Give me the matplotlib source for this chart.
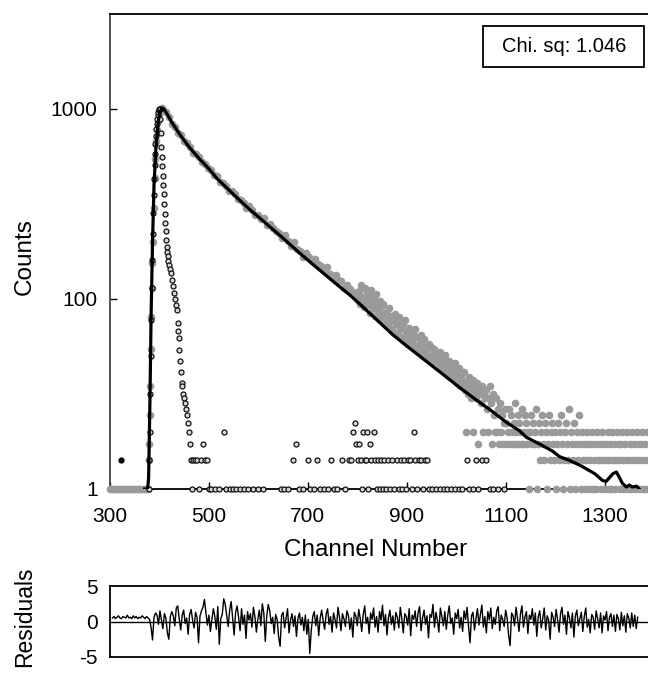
import numpy as np
import matplotlib
matplotlib.use("Agg")
from matplotlib import pyplot as plt
from matplotlib.patches import Rectangle

plt.rcParams['font.family'] = ['Liberation Sans', 'DejaVu Sans']
plt.rcParams['axes.unicode_minus'] = False

# decay (grey points), split in pieces
base_ch = [300, 304, 308, 312, 316, 320, 324, 328, 332, 336,
           340, 344, 348, 352, 356, 360, 364, 368, 372, 376]
base_counts = [1, 1, 1, 1, 1, 1, 1, 1, 1, 1,
               1, 1, 1, 1, 1, 1, 1, 1, 1, 1]

rise_ch = [378, 379, 380, 381, 382, 383, 384, 385, 386, 388,
           390, 392, 394, 396, 398, 400, 402, 404, 406]
rise_counts = [2, 3, 6, 12, 30, 65, 130, 240, 400, 900,
               1900, 3000, 4600, 6000, 7400, 8800, 9600, 10100, 10200]

# channels 408.. every 6
mid_counts = [9800, 9300, 8200, 7000, 6500, 5600, 5300, 4600, 4400, 3950,
              3450, 3400, 3100, 2750, 2650, 2380, 2300, 2000, 1950, 1700,
              1680, 1560, 1380, 1370, 1260, 1120, 1110, 1030, 910, 960,
              860, 760, 770, 700, 720, 600, 610, 560, 520, 500,
              440, 470, 410, 365, 395, 335, 320, 280, 305, 280,
              250, 265, 235, 225, 195, 215, 185, 165, 180, 160,
              155, 132, 140, 128, 118, 112]

# channels 801.. every 2
cloud_counts = [98, 120, 88, 140, 104, 95, 82, 130, 100, 118,
                86, 110, 72, 125, 92, 80, 100, 66, 112, 86,
                74, 62, 96, 70, 84, 60, 88, 56, 72, 64,
                70, 52, 80, 58, 66, 48, 62, 44, 70, 54,
                58, 42, 64, 48, 56, 40, 54, 38, 60, 46,
                44, 34, 50, 38, 46, 36, 44, 31, 48, 40,
                30, 40, 34, 28, 42, 33, 26, 38, 30, 24,
                30, 25, 34, 23, 31, 26, 21, 30, 24, 28,
                22, 26, 19, 28, 23, 20, 24, 18, 26, 21,
                19, 16, 22, 17, 20, 15, 19, 14, 21, 17,
                13, 16, 19, 12, 15, 14, 12, 17, 11, 4,
                13, 10, 15, 12, 9, 11, 14, 4, 10, 12,
                9, 13, 3, 11, 10, 8, 12, 4, 10, 9,
                11, 7, 4, 9, 12, 8, 3, 10, 6, 4,
                9, 4, 7, 3, 8, 4, 6, 3, 5, 7]

# channels 1100.. every 2
tail_counts = [5, 3, 4, 7, 3, 6, 4, 3, 5, 8, 4, 3, 6, 3, 5, 4, 3, 7, 3, 4, 6, 5, 3, 4, 1,
               4, 6, 3, 5, 3, 4, 7, 1, 3, 5, 2, 4, 6, 3, 2, 5, 4, 1, 3, 6, 2, 4, 5, 3, 2,
               4, 1, 3, 5, 2, 4, 6, 3, 1, 2, 4, 5, 3, 2, 7, 1, 4, 3, 2, 5, 1, 3, 4, 2, 6,
               3, 1, 4, 2, 3, 1, 2, 4, 3, 1, 2, 3, 4, 1, 2, 3, 1, 4, 2, 3, 2, 1, 4, 3, 2,
               1, 3, 2, 4, 1, 2, 3, 1, 4, 2, 3, 1, 2, 4, 3, 2, 1, 3, 4, 2, 1, 3, 2, 4, 1,
               2, 3, 1, 4, 2, 3, 1, 2, 4, 3, 1, 2, 3, 4, 1, 2, 3, 1, 4, 2]

dark_ch = [322]
dark_counts = [2]

# instrument response (open circles)
irf_ch = [378, 379, 380, 381, 382, 383, 384, 385, 386, 387,
          388, 389, 390, 391, 392, 393, 394, 395, 396, 397,
          398, 399, 400, 401, 402, 403, 404, 405, 406, 407,
          408, 409, 410, 411, 412, 413, 414, 415, 416, 417,
          418, 419, 421, 423, 425, 427, 429, 431, 433, 435,
          437, 438, 439, 440, 442, 444, 445, 446, 447, 449,
          451, 453, 455, 457, 459, 461, 463, 466, 468, 472,
          476, 480, 484, 488, 492, 496, 500, 505, 512, 520,
          530, 535, 542, 548, 555, 562, 570, 580, 590, 600,
          610, 646, 652, 660, 670, 676, 682, 690, 700, 705,
          712, 718, 725, 733, 740, 746, 752, 760, 769, 775,
          783, 787, 791, 795, 798, 801, 804, 807, 810, 812,
          815, 818, 820, 822, 825, 828, 833, 836, 840, 842,
          846, 848, 852, 855, 858, 862, 866, 870, 874, 880,
          884, 888, 891, 895, 898, 902, 906, 910, 914, 917,
          920, 924, 928, 932, 936, 940, 945, 952, 960, 968,
          975, 982, 990, 998, 1005, 1012, 1021, 1026, 1035, 1040,
          1045, 1052, 1060, 1068, 1075, 1085, 1096]
irf_counts = [1, 2, 4, 10, 25, 60, 130, 260, 480, 800,
              1250, 1850, 2600, 3400, 4300, 5200, 6100, 7000, 7900, 8700,
              9300, 9800, 10100, 10000, 7943, 5623, 3981, 3162, 2512, 1995,
              1585, 1259, 1000, 794, 631, 525, 417, 355, 316, 282,
              251, 229, 209, 186, 158, 138, 117, 100, 87, 76,
              56, 46, 39, 29, 22, 17, 13, 12, 10, 9,
              8, 7, 6, 5, 4, 3, 2, 1, 2, 2,
              2, 1, 2, 3, 2, 2, 1, 1, 1, 1,
              4, 1, 1, 1, 1, 1, 1, 1, 1, 1,
              1, 1, 1, 1, 2, 3, 1, 1, 2, 1,
              1, 2, 1, 1, 1, 2, 1, 1, 2, 1,
              2, 2, 4, 5, 3, 2, 3, 2, 1, 4,
              2, 2, 4, 1, 3, 2, 4, 2, 1, 2,
              1, 2, 1, 2, 1, 2, 1, 2, 1, 2,
              1, 2, 1, 2, 1, 2, 2, 1, 4, 2,
              1, 2, 2, 1, 2, 2, 1, 1, 1, 1,
              1, 1, 1, 1, 1, 1, 2, 1, 1, 2,
              1, 2, 2, 1, 1, 1, 1]

# fitted curve
fit_ch = [370, 376, 378, 379, 381, 383, 386, 389, 393, 397,
          401, 405, 409, 415, 425, 435, 447, 460, 480, 500,
          516, 540, 560, 583, 610, 630, 650, 680, 700, 718,
          750, 785, 811, 840, 872, 900, 940, 970, 1007, 1040,
          1074, 1100, 1128, 1142, 1170, 1195, 1209, 1229, 1250, 1264,
          1280, 1296, 1303, 1310, 1317, 1324, 1330, 1336, 1344, 1350,
          1356, 1365, 1370]
fit_counts = [1, 1, 1.3, 2.5, 10, 63, 398, 1585, 3981, 7079,
              9333, 10233, 10000, 8913, 7244, 6026, 4898, 3981, 3020, 2344,
              1862, 1413, 1122, 871, 661, 537, 437, 316, 257, 214,
              155, 110, 83, 60, 42, 32, 22, 16.6, 11.7, 8.7,
              6.5, 5.1, 4.1, 3.5, 2.95, 2.5, 2.19, 2.0, 1.78, 1.62,
              1.45, 1.23, 1.2, 1.32, 1.45, 1.51, 1.32, 1.15, 1.05, 1.1,
              1.05, 1.07, 1.0]

# residuals, channels 305.. every 3
resid = [0.5, 0.7, 0.4, 0.6, 0.8, 0.5, 0.4, 0.7, 0.6, 0.5, 0.9, 0.5, 0.6, 0.4, 0.8,
         0.5, 0.7, 0.4, 0.6, 0.5, 0.8, 0.6, 0.4, 0.7, 0.5,
         0.3, -0.8, -2.6, 0.6, 1.2, 0.9, -0.4, 1.5, 0.2, -1.0, 1.1, 0.5, -1.6, -2.5, 0.7,
         1.4, 0.8, -0.6, 1.9, 2.2, 0.4, -1.2, 0.9, 1.6, -0.3, 0.5, -1.8, 1.0, 1.7, 0.2,
         -0.9, 1.3, 0.6, -3.0, 0.8, 1.5, 2.0, 3.1, 1.2, -0.5, 0.9, -1.4, 0.3, 1.8, 0.7,
         -1.1, 2.1, -3.2, 0.4, 1.0, 3.2, 2.4, 0.8, -0.7, 1.6, 2.8, 0.5, -1.9, 1.3, 2.2,
         0.6, -1.3, 1.8, -0.4, 0.9, -2.4, 1.4, 0.2, 1.1, -0.8, 2.0, 0.7, -1.5, 0.4, 1.6,
         -0.6, 2.5, 1.2, -2.8, 0.8, 2.4, 1.5, -0.3, 0.6, -1.7, 1.0, 0.3, -2.2, -3.5, 0.9,
         1.3, -0.9, 0.5, 1.8, -1.6, 0.2, 1.1, -0.7, 0.8, -2.1, 0.4, 1.2, -0.5, 0.6, -1.3,
         0.9, -1.8, 0.3, -4.5, -1.2, 0.7, 1.4, -0.6, 0.9, -2.0, 0.5, 1.6, 0.1, -1.1, 1.0,
         1.8, -0.4, 0.7, -1.5, 1.2, 0.3, -0.9, 2.0, 0.6, -1.3, 1.1, 0.4, -0.7, 1.5, 0.9,
         -1.1, 0.5, -2.2, 1.3, 0.8, -0.6, 1.7, 0.4, -1.4, 1.0, 2.2, -0.3, 0.6, -1.7, 1.2,
         0.3, 1.9, -0.8, 0.7, -1.5, 1.4, 0.2, 2.3, -0.6, 1.0, -1.9, 0.5, 1.6, -0.4, 0.8,
         -1.2, 1.3, 0.6, -0.9, 2.0, 0.4, -1.6, 1.1, 0.7, -0.5, 1.8, -2.0, 0.9, 0.3, 1.5,
         -0.7, 1.2, 2.1, -1.3, 0.5, 1.6, -0.4, 0.8, -2.3, 1.0, 0.6, 2.4, -0.8, 1.3, 0.2,
         -1.5, 1.9, 0.7, -0.6, 1.4, -1.1, 0.9, 2.2, -0.3, 0.5, -1.8, 1.2, 0.4, 1.7, -0.9,
         0.6, -1.4, 1.5, 0.3, 2.0, -0.7, -3.0, 0.8, 1.3, -1.2, 0.4, 1.8, -0.5, 1.0, 2.3,
         -0.8, 0.7, -1.6, 1.4, 0.2, 1.9, -1.0, 0.6, -0.4, 1.5, 2.1, -1.3, 0.9, 0.3, -0.7,
         1.6, 0.5, -1.9, -3.4, 1.2, 0.8, -0.6, 2.0, 0.4, -1.4, 1.1, 2.2, -0.8, 0.6, 1.4,
         -1.7, 0.9, 0.3, 1.8, -0.5, 1.2, -2.1, 0.7, 1.5, -0.9, 0.4, 1.9, -1.2, 0.8, 0.2,
         -2.5, 1.3, 0.6, -0.7, 1.7, 0.3, -1.5, 1.1, 2.0, -0.4, 0.9, -1.8, 1.4, 0.5, -0.9,
         1.2, -2.2, 0.8, 1.6, -0.6, 0.4, 1.3, -1.4, 0.7, 1.9, -0.8, 0.3, -1.6, 1.0, 0.6,
         -1.1, 1.5, 0.4, -0.9, 1.2, -1.6, 0.8, 0.2, 1.4, -1.3, 0.6, 1.1, -0.7, 0.9, -1.4,
         1.0, 0.4, -1.2, 1.3, -0.6, 0.8, -1.5, 1.1, 0.5, -0.9, 1.2, -0.7, 0.9, -1.0, 0.6]

x_ticks = [300, 500, 700, 900, 1100, 1300]
y_ticks = [1, 100, 10000]
y_ticklabels = ['1', '100', '1000']

mid_ch = 408 + 6 * np.arange(len(mid_counts))
cloud_ch = 801 + 2 * np.arange(len(cloud_counts))
tail_ch = 1100 + 2 * np.arange(len(tail_counts))
resid_ch = 305 + 3 * np.arange(len(resid))

decay_ch = np.concatenate([base_ch, rise_ch, mid_ch, cloud_ch, tail_ch])
decay_counts = np.concatenate([base_counts, rise_counts, mid_counts, cloud_counts, tail_counts])

W, H = 648, 673
fig = plt.figure(figsize=(W / 100, H / 100), dpi=100)

ax = fig.add_axes([110 / W, (H - 489) / H, 544 / W, 475 / H])
ax.plot(decay_ch, decay_counts, 'o', color='#9a9a9a', ms=5.5, mec='none', zorder=3, clip_on=False)
ax.plot(dark_ch, dark_counts, 'o', color='black', ms=4.5, mec='none', zorder=3)
ax.plot(irf_ch, irf_counts, 'o', ms=3.6, mfc='#d8d8d8', mec='#111111', mew=0.9, zorder=4, clip_on=False)
ax.plot(fit_ch, fit_counts, '-', color='black', lw=2.3, zorder=5)

ax.set_yscale('log')
ax.set_xlim(300, 1400)
ax.set_ylim(1, 100000)
ax.set_xticks(x_ticks)
ax.set_yticks(y_ticks)
ax.set_yticklabels(y_ticklabels)
ax.yaxis.set_minor_locator(matplotlib.ticker.NullLocator())
ax.tick_params(axis='both', direction='in', length=5, width=1, labelsize=15)
ax.tick_params(axis='x', pad=13)
ax.tick_params(axis='y', pad=9)
for s in ax.spines.values():
    s.set_linewidth(1.3)
ax.spines['left'].set_color('#444444')

ax.set_xlabel('Channel Number', fontsize=17.5)
ax.set_ylabel('Counts', fontsize=17.5)
ax.xaxis.set_label_coords(0.489, -0.106)
ax.yaxis.set_label_coords(-0.136, 0.49)

# chi square box
ax.add_patch(Rectangle((0.686, 0.888), 0.296, 0.086, transform=ax.transAxes,
                       fill=False, ec='black', lw=1.3, zorder=6))
ax.text(0.834, 0.931, 'Chi. sq: 1.046', transform=ax.transAxes,
        ha='center', va='center', fontsize=14.5, zorder=6)

# residuals panel
axr = fig.add_axes([110 / W, (H - 657) / H, 544 / W, 71 / H])
axr.axhline(0, color='black', lw=1)
axr.plot(resid_ch, resid, '-', color='black', lw=1.0)
axr.set_xlim(300, 1400)
axr.set_ylim(-5, 5)
axr.set_xticks([])
axr.set_yticks([-5, 0, 5])
axr.tick_params(axis='y', length=0, pad=9, labelsize=15)
for s in axr.spines.values():
    s.set_linewidth(1.3)
axr.set_ylabel('Residuals', fontsize=16.5)
axr.yaxis.set_label_coords(-0.136, 0.57)

fig.savefig('out.png', dpi=100)
